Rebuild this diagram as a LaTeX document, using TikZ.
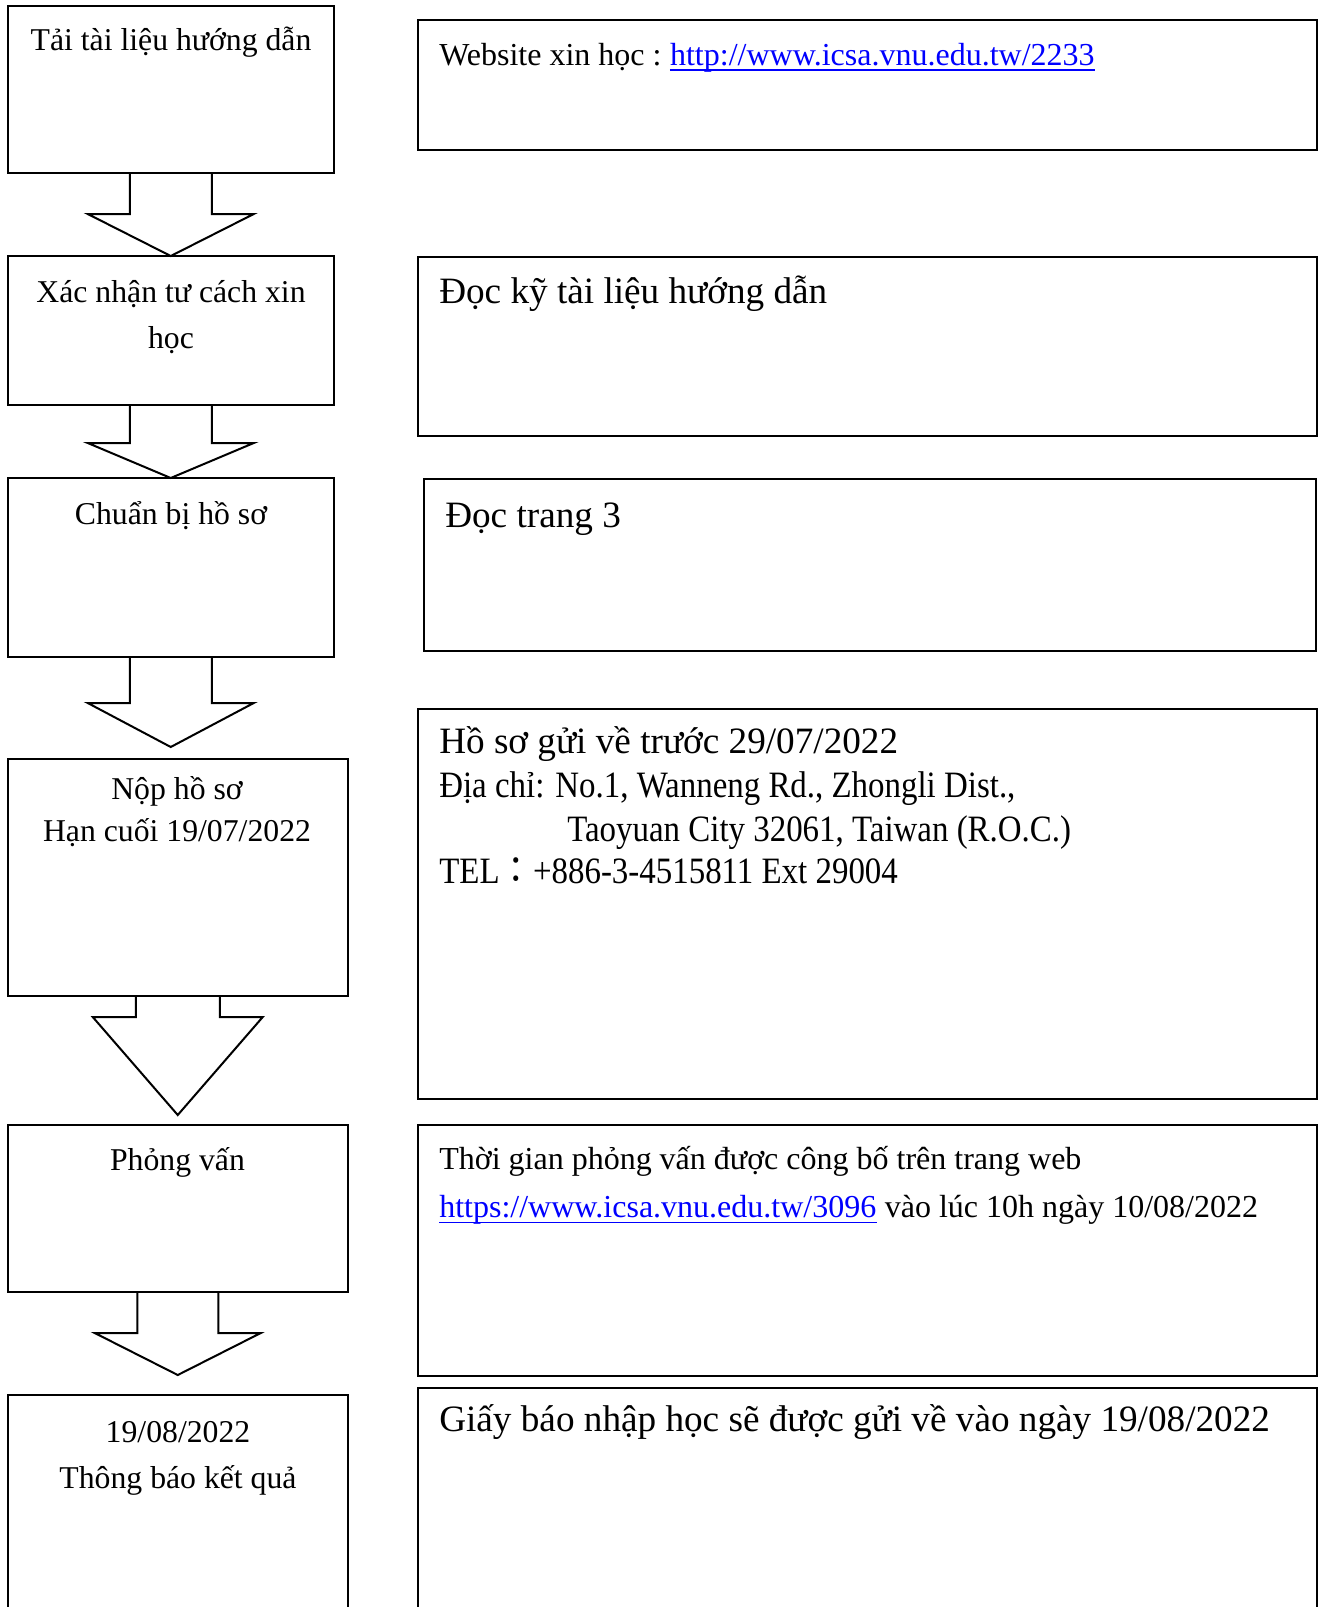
\documentclass[tikz,border=0pt]{standalone}
\usepackage{fontspec}
\setmainfont{Liberation Serif}
\newfontfamily\narrowserif[FakeStretch=0.885]{Liberation Serif}
\newfontfamily\cjkcolon[FakeStretch=0.9]{Noto Sans CJK TC}
\usetikzlibrary{calc}
\definecolor{linkblue}{RGB}{0,0,255}
\tikzset{
  frame/.style={draw=black, line width=1.5pt, rectangle, inner sep=0pt, outer sep=0pt, anchor=north west},
  sz/.style 2 args={minimum width=#1*0.75pt, minimum height=#2*0.75pt},
  blockarrow/.style={draw=black, line width=1.5pt, line join=miter},
  lefttext/.style={inner sep=0pt, anchor=base, font=\fontsize{23.8}{28}\selectfont},
  smalltext/.style={inner sep=0pt, anchor=base west, font=\fontsize{24}{28}\selectfont},
  bigtext/.style={inner sep=0pt, anchor=base west, font=\fontsize{27.9}{33}\selectfont},
  condtext/.style={inner sep=0pt, anchor=base west, font=\narrowserif\fontsize{27.9}{33}\selectfont},
  linktext/.style={inner sep=0pt, anchor=base west, text=linkblue, font=\fontsize{24}{28}\selectfont},
  linkline/.style={draw=linkblue, line width=1.3pt},
}
\begin{document}
\begin{tikzpicture}[x=0.75pt,y=-0.75pt]
\clip (0,0) rectangle (1320,1607);
\fill[white] (0,0) rectangle (1320,1607);

% left column boxes
\node[frame, sz={326.5}{166.5}] (b1) at (7.5,6) {};
\node[frame, sz={326.5}{148.5}] (b2) at (7.5,256) {};
\node[frame, sz={326.5}{179}] (b3) at (7.5,478) {};
\node[frame, sz={340.5}{237}] (b4) at (7.5,759) {};
\node[frame, sz={340.5}{167}] (b5) at (7.5,1125) {};
\node[frame, sz={340.5}{300}] (b6) at (7.5,1395) {};

% right column boxes
\node[frame, sz={899}{130.5}] (r1) at (418,19.5) {};
\node[frame, sz={899}{179}] (r2) at (418,257) {};
\node[frame, sz={892}{172}] (r3) at (424,479) {};
\node[frame, sz={899}{390}] (r4) at (418,709) {};
\node[frame, sz={899}{251}] (r5) at (418,1125) {};
\node[frame, sz={899}{300}] (r6) at (418,1388) {};

% block arrows
\draw[blockarrow] ($(b1.south)+(-41,0)$) -- ($(b1.south)+(-41,41.5)$) -- ($(b1.south)+(-83,41.5)$)
  -- (b2.north) -- ($(b1.south)+(83,41.5)$) -- ($(b1.south)+(41,41.5)$) -- ($(b1.south)+(41,0)$);
\draw[blockarrow] ($(b2.south)+(-41,0)$) -- ($(b2.south)+(-41,38.5)$) -- ($(b2.south)+(-83,38.5)$)
  -- (b3.north) -- ($(b2.south)+(83,38.5)$) -- ($(b2.south)+(41,38.5)$) -- ($(b2.south)+(41,0)$);
\coordinate (tip3) at ($(b3.south)+(0,90)$);
\draw[blockarrow] ($(b3.south)+(-41,0)$) -- ($(b3.south)+(-41,46)$) -- ($(b3.south)+(-83,46)$)
  -- (tip3) -- ($(b3.south)+(83,46)$) -- ($(b3.south)+(41,46)$) -- ($(b3.south)+(41,0)$);
\coordinate (tip4) at ($(b4.south)+(0,119)$);
\draw[blockarrow] ($(b4.south)+(-42,0)$) -- ($(b4.south)+(-42,21)$) -- ($(b4.south)+(-85,21)$)
  -- (tip4) -- ($(b4.south)+(85,21)$) -- ($(b4.south)+(42,21)$) -- ($(b4.south)+(42,0)$);
\coordinate (tip5) at ($(b5.south)+(0,83)$);
\draw[blockarrow] ($(b5.south)+(-40.5,0)$) -- ($(b5.south)+(-40.5,41)$) -- ($(b5.south)+(-83,41)$)
  -- (tip5) -- ($(b5.south)+(83,41)$) -- ($(b5.south)+(40.5,41)$) -- ($(b5.south)+(40.5,0)$);

% left texts
\node[lefttext] (t1) at (171,50) {Tải tài liệu hướng dẫn};
\node[lefttext] (t2a) at (171,302) {Xác nhận tư cách xin};
\node[lefttext] (t2b) at (171,348) {học};
\node[lefttext] (t3) at (171,524) {Chuẩn bị hồ sơ};
\node[lefttext] (t4a) at (177,799) {Nộp hồ sơ};
\node[lefttext] (t4b) at (177,841) {Hạn cuối 19/07/2022};
\node[lefttext] (t5) at (177.5,1170) {Phỏng vấn};
\node[lefttext] (t6a) at (178,1442) {19/08/2022};
\node[lefttext] (t6b) at (178,1488) {Thông báo kết quả};

% right texts
\node[smalltext] (u1) at (439,65) {Website xin học :};
\node[linktext] (l1) at ([xshift=6pt]u1.base east) {http://www.icsa.vnu.edu.tw/2233};
\draw[linkline] ([yshift=-3.9pt]l1.base west) -- ([yshift=-3.9pt]l1.base east);

\node[bigtext] (u2) at (439,303) {Đọc kỹ tài liệu hướng dẫn};
\node[bigtext] (u3) at (445,527) {Đọc trang 3};

\node[bigtext] (u4a) at (439,753) {Hồ sơ gửi về trước 29/07/2022};
\node[condtext] (u4b) at (439,797) {Địa chỉ: No.1, Wanneng Rd., Zhongli Dist.,};
\node[condtext] (u4c) at (567,841) {Taoyuan City 32061, Taiwan (R.O.C.)};
\node[condtext] (u4d) at (439,883) {TEL{\cjkcolon ：}+886-3-4515811 Ext 29004};

\node[smalltext] (u5a) at (439,1169) {Thời gian phỏng vấn được công bố trên trang web};
\node[linktext] (l5) at (439,1217) {https://www.icsa.vnu.edu.tw/3096};
\node[smalltext] (u5b) at ([xshift=6pt]l5.base east) {vào lúc 10h ngày 10/08/2022};
\draw[linkline] ([yshift=-4.2pt]l5.base west) -- ([yshift=-4.2pt]l5.base east);

\node[bigtext] (u6) at (439,1431) {Giấy báo nhập học sẽ được gửi về vào ngày 19/08/2022};
\end{tikzpicture}
\end{document}
